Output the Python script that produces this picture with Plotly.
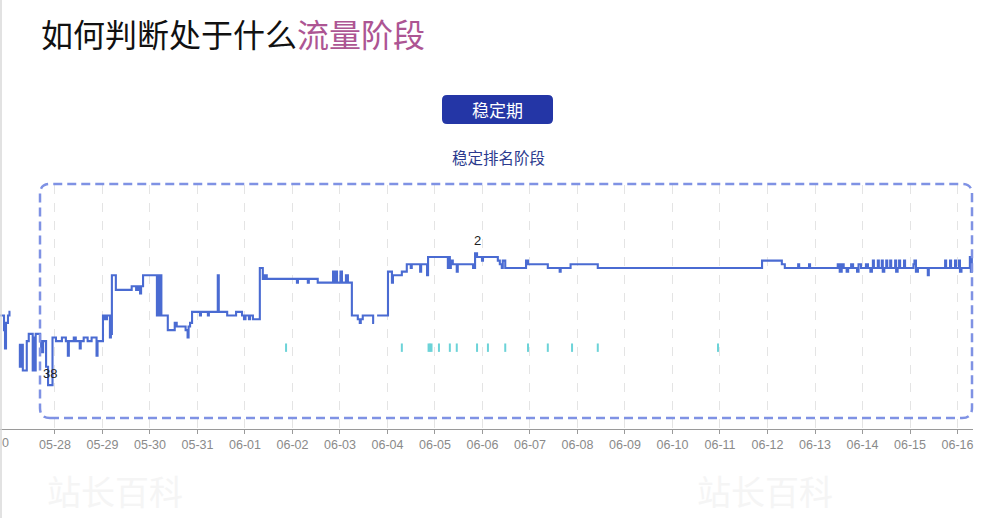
import plotly.graph_objects as go

YEAR = "2023"

# ---------------- data ----------------
# keyword rank over time (step series); None marks a gap in the data
rank_series = [
    ("05-26 20:00", 19), ("05-26 22:15", 23), ("05-26 22:45", 28), ("05-26 23:15", 21),
    ("05-27 00:15", 19), ("05-27 01:00", 18), ("05-27 01:30", 18),
    ("05-27 03:00", None),
    ("05-27 05:45", 27), ("05-27 06:15", 33), ("05-27 07:15", 27), ("05-27 07:45", 34),
    ("05-27 09:45", 26), ("05-27 10:45", 24), ("05-27 12:45", 34), ("05-27 13:15", 25),
    ("05-27 13:45", 34), ("05-27 14:15", 24), ("05-27 16:30", 26), ("05-27 17:00", 29),
    ("05-27 18:00", 26), ("05-27 19:30", 33), ("05-27 20:30", 38), ("05-27 22:45", 25),
    ("05-28 00:30", 26), ("05-28 03:30", 25), ("05-28 05:30", 26), ("05-28 06:30", 30),
    ("05-28 07:00", 26), ("05-28 09:30", 25), ("05-28 10:30", 26), ("05-28 12:30", 28),
    ("05-28 13:00", 26), ("05-28 14:30", 25), ("05-28 16:30", 26), ("05-28 18:30", 25),
    ("05-28 21:00", 30), ("05-28 21:30", 26),
    ("05-29 00:15", 19), ("05-29 01:15", 20), ("05-29 02:15", 19), ("05-29 03:45", 25),
    ("05-29 04:15", 24), ("05-29 04:45", 8), ("05-29 06:45", 12), ("05-29 14:45", 11),
    ("05-29 17:00", 12), ("05-29 18:00", 11), ("05-29 19:00", 13), ("05-29 19:30", 11),
    ("05-29 20:30", 8),
    ("05-30 03:30", 19), ("05-30 04:00", 8), ("05-30 04:15", 19), ("05-30 04:45", 8),
    ("05-30 05:00", 19), ("05-30 05:30", 8), ("05-30 05:45", 19), ("05-30 09:00", 23),
    ("05-30 12:30", 21), ("05-30 13:30", 22), ("05-30 18:00", 23), ("05-30 19:00", 25),
    ("05-30 19:30", 22), ("05-30 20:15", 21), ("05-30 21:15", 18),
    ("05-31 01:15", 19), ("05-31 01:45", 18), ("05-31 05:15", 19), ("05-31 05:45", 18),
    ("05-31 10:15", 8), ("05-31 10:45", 18), ("05-31 15:00", 19), ("05-31 19:30", 18),
    ("05-31 22:30", 19), ("05-31 23:30", 20),
    ("06-01 00:15", 19), ("06-01 02:00", 20), ("06-01 02:30", 19), ("06-01 04:00", 20),
    ("06-01 07:30", 6), ("06-01 09:00", 9), ("06-01 10:00", 8), ("06-01 11:00", 9),
    ("06-02 02:15", 10), ("06-02 02:45", 9), ("06-02 07:45", 10), ("06-02 08:15", 9),
    ("06-02 12:45", 10), ("06-02 20:30", 7), ("06-02 21:15", 10), ("06-02 21:45", 7),
    ("06-02 22:30", 10), ("06-03 00:15", 7), ("06-03 01:00", 10), ("06-03 03:00", 8),
    ("06-03 04:00", 10), ("06-03 06:00", 19), ("06-03 09:00", 20), ("06-03 10:00", 21),
    ("06-03 10:30", 20), ("06-03 11:30", 19), ("06-03 16:45", 21), ("06-03 17:15", 21),
    ("06-03 18:00", None),
    ("06-03 18:45", 19), ("06-04 00:15", 7), ("06-04 02:15", 10), ("06-04 02:45", 8),
    ("06-04 07:15", 7), ("06-04 09:45", 5), ("06-04 11:45", 6), ("06-04 12:15", 5),
    ("06-04 16:30", 7), ("06-04 17:00", 5), ("06-04 20:00", 8), ("06-04 20:30", 3),
    ("06-05 06:30", 6), ("06-05 07:00", 3), ("06-05 07:30", 6), ("06-05 08:00", 4),
    ("06-05 09:00", 5), ("06-05 11:00", 7), ("06-05 11:30", 5), ("06-05 19:15", 6),
    ("06-05 20:15", 2), ("06-05 21:15", 3), ("06-05 23:45", 4), ("06-06 00:15", 3),
    ("06-06 07:45", 4), ("06-06 08:45", 5), ("06-06 09:45", 6), ("06-06 10:15", 4),
    ("06-06 11:30", 6), ("06-06 22:00", 4), ("06-06 23:00", 5), ("06-07 09:00", 6),
    ("06-07 15:00", 7), ("06-07 15:30", 6), ("06-07 20:30", 5), ("06-08 10:15", 6),
    ("06-11 21:15", 4), ("06-12 07:15", 5), ("06-12 08:45", 6), ("06-12 15:30", 5),
    ("06-12 16:00", 6), ("06-12 21:00", 5), ("06-12 21:30", 6),
    ("06-13 11:30", 5), ("06-13 12:30", 7), ("06-13 13:30", 5), ("06-13 14:30", 6),
    ("06-13 16:00", 7), ("06-13 16:45", 6), ("06-13 18:15", 5), ("06-13 19:15", 6),
    ("06-13 21:15", 7), ("06-13 22:00", 5), ("06-13 23:15", 6),
    ("06-14 01:45", 5), ("06-14 02:45", 6), ("06-14 04:00", 7), ("06-14 04:45", 6),
    ("06-14 05:15", 4), ("06-14 05:45", 6), ("06-14 07:45", 4), ("06-14 08:15", 6),
    ("06-14 09:45", 4), ("06-14 10:15", 7), ("06-14 11:00", 6), ("06-14 12:00", 4),
    ("06-14 12:30", 6), ("06-14 14:00", 4), ("06-14 14:30", 6), ("06-14 16:30", 4),
    ("06-14 17:00", 7), ("06-14 17:45", 6), ("06-14 18:30", 4), ("06-14 19:00", 6),
    ("06-14 21:00", 4), ("06-14 21:30", 6),
    ("06-15 01:00", 6), ("06-15 01:45", 5), ("06-15 02:15", 4), ("06-15 03:00", 7),
    ("06-15 04:00", 6), ("06-15 09:00", 8), ("06-15 09:30", 6), ("06-15 17:45", 4),
    ("06-15 18:15", 6), ("06-15 20:15", 4), ("06-15 20:45", 6), ("06-15 22:45", 4),
    ("06-15 23:15", 6), ("06-16 00:45", 4), ("06-16 01:15", 7), ("06-16 02:00", 6),
    ("06-16 06:15", 3), ("06-16 06:45", 7), ("06-16 07:15", 3), ("06-16 07:45", 3),
]

# small event markers (cyan ticks)
event_times = [
    "06-01 20:45", "06-04 07:15", "06-04 20:45", "06-04 21:30", "06-04 22:15",
    "06-05 02:00", "06-05 07:30", "06-05 11:00", "06-05 21:15", "06-06 02:45",
    "06-06 11:30", "06-06 23:00", "06-07 09:00", "06-07 21:15", "06-08 10:15",
    "06-10 23:00",
]

x_tick_labels = ["05-28", "05-29", "05-30", "05-31", "06-01", "06-02", "06-03",
                 "06-04", "06-05", "06-06", "06-07", "06-08", "06-09", "06-10",
                 "06-11", "06-12", "06-13", "06-14", "06-15", "06-16"]

title_black = "如何判断处于什么"
title_pink = "流量阶段"
button_text = "稳定期"
subtitle_text = "稳定排名阶段"
watermark_text = "站长百科"

# ---------------- helpers ----------------
def ts(s):
    return f"{YEAR}-{s[:5]} {s[6:]}"

times = [ts(t) for t, _ in rank_series]
ranks = [r for _, r in rank_series]
ev_x = [ts(t) for t in event_times]

# layout geometry (pixels) -> paper coords
W, H = 1000, 518
PL, PR, PT, PB = 0, 973, 185, 429
PW, PH = PR - PL, PB - PT

def px(x):
    return (x - PL) / PW

def py(y):
    return (PB - y) / PH

def rounded_rect(x0, y0, x1, y1, r):
    # pixel coords (y down) -> paper path
    X0, X1 = px(x0), px(x1)
    Yt, Yb = py(y0), py(y1)
    rx, ry = r / PW, r / PH
    return (f"M {X0+rx},{Yb} L {X1-rx},{Yb} Q {X1},{Yb} {X1},{Yb+ry} "
            f"L {X1},{Yt-ry} Q {X1},{Yt} {X1-rx},{Yt} L {X0+rx},{Yt} "
            f"Q {X0},{Yt} {X0},{Yt-ry} L {X0},{Yb+ry} Q {X0},{Yb} {X0+rx},{Yb} Z")

fig = go.Figure()
fig.add_trace(go.Scatter(
    x=times, y=ranks, mode="lines", connectgaps=False,
    line=dict(color="#4a6bd2", width=2.1, shape="hv"),
    hoverinfo="skip", showlegend=False))
fig.add_trace(go.Scatter(
    x=ev_x, y=[1] * len(ev_x), yaxis="y2", mode="markers",
    marker=dict(symbol="line-ns", size=6, line=dict(width=2, color="#6cd3d8")),
    hoverinfo="skip", showlegend=False))

# min / max labels from the data
valid = [(t, r) for t, r in zip(times, ranks) if r is not None]
t_min, r_min = max(valid, key=lambda p: p[1])
t_max, r_max = min(valid, key=lambda p: p[1])

annotations = [
    dict(x=t_min, y=r_min, xref="x", yref="y", text=str(r_min), showarrow=False,
         yshift=12, xshift=2, font=dict(family="Liberation Sans", size=13, color="#222")),
    dict(x=t_max, y=r_max, xref="x", yref="y", text=str(r_max), showarrow=False,
         yshift=13, xshift=2, font=dict(family="Liberation Sans", size=13, color="#222")),
    dict(x=px(39), y=py(33), xref="paper", yref="paper", xanchor="left", yanchor="middle",
         showarrow=False,
         text=f'{title_black}<span style="color:#ad5593">{title_pink}</span>',
         font=dict(family="Noto Sans CJK SC", size=32, color="#111111")),
    dict(x=px(497.5), y=py(109.5), xref="paper", yref="paper", xanchor="center",
         yanchor="middle", showarrow=False, text=button_text,
         font=dict(family="Noto Sans CJK SC", size=17, color="#ffffff")),
    dict(x=px(498), y=py(157), xref="paper", yref="paper", xanchor="center",
         yanchor="middle", showarrow=False, text=subtitle_text,
         font=dict(family="Noto Sans CJK SC", size=15.5, color="#2b3a8e")),
    dict(x=px(0), y=py(443), xref="paper", yref="paper", xanchor="left",
         yanchor="middle", showarrow=False, text="0",
         font=dict(family="Liberation Sans", size=12.5, color="#8a8a8a")),
    dict(x=px(115), y=py(490), xref="paper", yref="paper", xanchor="center",
         yanchor="middle", showarrow=False, text=watermark_text,
         font=dict(family="Noto Sans CJK SC", size=34, color="#f5f5f5")),
    dict(x=px(765), y=py(490), xref="paper", yref="paper", xanchor="center",
         yanchor="middle", showarrow=False, text=watermark_text,
         font=dict(family="Noto Sans CJK SC", size=34, color="#f5f5f5")),
]

shapes = [
    # slide border on the left
    dict(type="line", xref="paper", yref="paper", x0=px(1), x1=px(1), y0=py(0), y1=py(H),
         line=dict(color="#d9d9d9", width=1.5)),
    # dashed rounded highlight box
    dict(type="path", xref="paper", yref="paper", path=rounded_rect(40, 184, 972, 418, 10),
         line=dict(color="#7f92e4", width=2.5, dash="9px,5px"), layer="above"),
    # button
    dict(type="path", xref="paper", yref="paper", path=rounded_rect(442, 95, 553, 124, 5),
         fillcolor="#2436a6", line=dict(width=0)),
]

fig.update_layout(
    width=W, height=H,
    margin=dict(l=PL, r=W - PR, t=PT, b=H - PB, pad=0),
    paper_bgcolor="#ffffff", plot_bgcolor="#ffffff",
    showlegend=False,
    xaxis=dict(
        type="date",
        range=[f"{YEAR}-05-26 20:13", f"{YEAR}-06-16 07:50"],
        tickvals=[f"{YEAR}-{d}" for d in x_tick_labels],
        ticktext=x_tick_labels,
        tickfont=dict(family="Liberation Sans", size=12.5, color="#8a8a8a"),
        ticks="outside", ticklen=4, tickcolor="#9a9a9a",
        showline=True, linecolor="#9a9a9a", linewidth=1,
        showgrid=True, gridcolor="#e4e4e4", griddash="dash", gridwidth=1,
        zeroline=False, fixedrange=True,
    ),
    yaxis=dict(range=[50.0, -16.66], showgrid=False, zeroline=False,
               showticklabels=False, showline=False, fixedrange=True),
    yaxis2=dict(overlaying="y", range=[0, 3], visible=False, fixedrange=True),
    annotations=annotations,
    shapes=shapes,
)

fig.write_html("out.html",
               config={"displayModeBar": False},
               post_script="document.body.style.margin='0';document.body.style.overflow='hidden';")
